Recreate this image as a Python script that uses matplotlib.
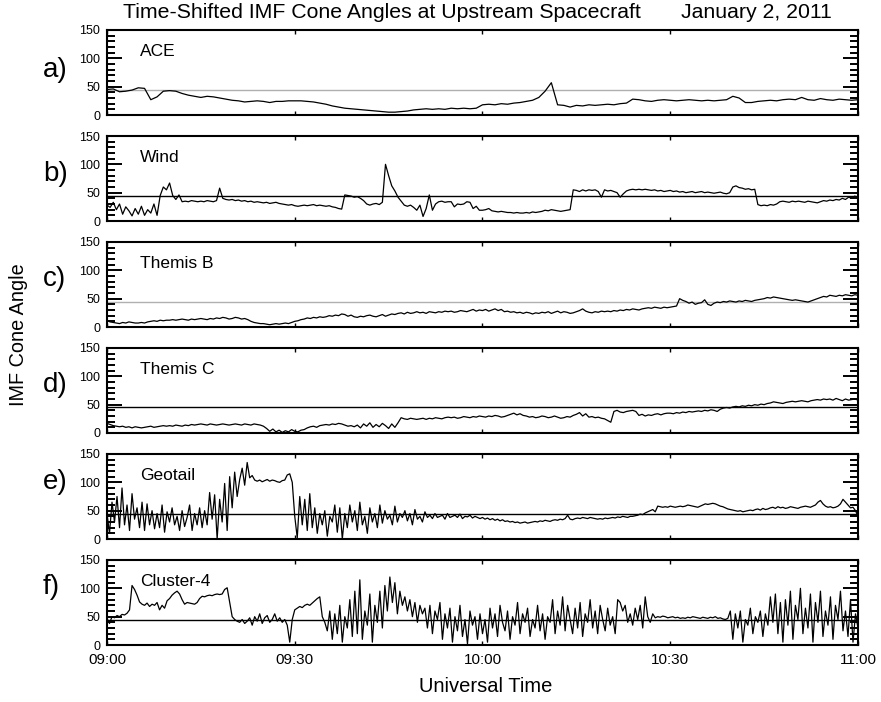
import numpy as np
import matplotlib
matplotlib.use("Agg")
import matplotlib.pyplot as plt
from matplotlib.ticker import MultipleLocator

FONT = 'Liberation Sans'

# ---------------- data ----------------
tick_minutes = [0, 30, 60, 90, 120]
tick_labels = ['09:00', '09:30', '10:00', '10:30', '11:00']
panel_letters = ['a)', 'b)', 'c)', 'd)', 'e)', 'f)']
spacecraft = ['ACE', 'Wind', 'Themis B', 'Themis C', 'Geotail', 'Cluster-4']
ref_angle = 45

# ACE: 1-minute samples from 09:00
ace = [45, 46, 41, 42, 44, 48, 47, 27, 32, 42, 43, 42, 38, 35, 33, 31, 33, 32, 30, 28,
       26, 25, 23, 24, 25, 24, 22, 24, 24, 25, 25, 25, 24, 23, 21, 19, 16, 14, 12, 11,
       10, 9, 8, 7, 6, 5, 5, 6, 7, 9, 10, 11, 10, 11, 10, 12, 11, 12, 11, 12,
       18, 19, 18, 20, 19, 21, 22, 24, 26, 31, 42, 57, 18, 17, 14, 17, 16, 18, 17, 18,
       19, 18, 20, 21, 28, 27, 25, 24, 26, 27, 26, 25, 26, 27, 26, 25, 26, 25, 26, 27,
       33, 30, 22, 22, 24, 25, 26, 25, 27, 28, 27, 31, 27, 26, 29, 27, 26, 28, 27, 26, 27]

# Wind: 0.5-minute samples
wind = [28, 24, 33, 20, 30, 12, 25, 18, 9, 22,
        12, 26, 10, 20, 14, 30, 10, 45, 60, 55,
        67, 45, 38, 46, 34, 35, 34, 36, 35, 34,
        35, 34, 36, 35, 34, 36, 58, 40, 38, 37,
        38, 36, 37, 35, 36, 34, 35, 33, 34, 33,
        32, 33, 31, 32, 33, 31, 30, 29, 28, 29,
        27, 26, 27, 28, 27, 28, 29, 27, 28, 27,
        26, 27, 25, 24, 22, 21, 46, 45, 44, 42,
        43, 40, 36, 30, 28, 30, 31, 29, 33, 100,
        80, 62, 53, 42, 35, 28, 26, 28, 24, 19,
        28, 8, 22, 46, 19, 30, 34, 35, 33, 34,
        34, 25, 30, 29, 30, 34, 33, 22, 26, 19,
        19, 20, 22, 18, 17, 16, 17, 16, 15, 15,
        14, 15, 14, 14, 15, 14, 16, 15, 16, 17,
        19, 18, 20, 19, 18, 17, 18, 19, 20, 55,
        54, 52, 55, 53, 55, 54, 55, 52, 42, 55,
        53, 54, 52, 50, 42, 48, 53, 55, 56, 55,
        56, 55, 56, 55, 54, 55, 53, 54, 52, 53,
        54, 52, 53, 51, 52, 50, 51, 52, 50, 51,
        52, 50, 51, 50, 49, 50, 51, 49, 48, 50,
        60, 62, 59, 58, 56, 57, 55, 56, 29, 27,
        28, 27, 29, 28, 30, 34, 35, 34, 33, 35,
        34, 35, 34, 33, 35, 34, 33, 32, 34, 36,
        35, 37, 36, 38, 37, 40, 38, 42, 40, 44,
        40]

# Themis B: 0.5-minute samples
themis_b = [11, 9, 8, 7, 6, 8, 7, 9, 8, 7,
            7, 8, 7, 9, 10, 11, 10, 12, 11, 12,
            12, 13, 12, 13, 14, 13, 12, 14, 13, 14,
            15, 14, 13, 15, 14, 16, 15, 17, 16, 14,
            15, 17, 16, 14, 15, 13, 10, 8, 7, 6,
            6, 5, 4, 5, 6, 5, 6, 7, 6, 8,
            10, 11, 13, 14, 16, 15, 17, 16, 18, 17,
            18, 20, 19, 21, 20, 23, 22, 19, 21, 18,
            17, 19, 18, 20, 21, 19, 18, 20, 22, 19,
            21, 23, 22, 24, 25, 23, 26, 24, 25, 27,
            25, 26, 24, 27, 26, 25, 27, 26, 28, 27,
            28, 26, 27, 29, 28, 27, 29, 31, 28, 30,
            29, 31, 28, 30, 32, 29, 31, 27, 28, 26,
            27, 25, 26, 24, 26, 25, 23, 25, 24, 26,
            25, 27, 24, 26, 28, 25, 27, 26, 24, 25,
            27, 29, 32, 28, 26, 25, 27, 26, 28, 27,
            28, 27, 29, 28, 30, 29, 31, 30, 32, 31,
            30, 32, 33, 34, 33, 35, 34, 33, 35, 34,
            35, 36, 37, 50, 47, 45, 42, 44, 40, 42,
            43, 48, 40, 38, 42, 44, 43, 45, 44, 46,
            45, 44, 46, 45, 47, 46, 45, 47, 48, 49,
            50, 52, 51, 53, 52, 51, 50, 49, 48, 47,
            48, 47, 46, 45, 44, 46, 48, 50, 52, 54,
            53, 56, 55, 54, 56, 55, 57, 56, 55, 57,
            56]

# Themis C: 0.5-minute samples
themis_c = [17, 15, 13, 12, 11, 12, 10, 11, 9, 11,
            10, 9, 10, 11, 12, 10, 11, 12, 13, 12,
            13, 12, 14, 13, 12, 14, 13, 15, 14, 15,
            16, 15, 14, 16, 15, 14, 15, 16, 15, 14,
            15, 16, 15, 14, 16, 15, 14, 16, 15, 14,
            12, 8, 3, 7, 2, 5, 1, 4, 2, 6,
            3, 2, 5, 6, 9, 11, 12, 10, 13, 14,
            15, 14, 16, 15, 17, 16, 14, 12, 13, 11,
            14, 9, 16, 12, 18, 10, 15, 11, 17, 13,
            8, 16, 10, 18, 27, 25, 24, 26, 25, 24,
            25, 26, 24, 26, 25, 27, 26, 25, 27, 28,
            27, 28, 26, 27, 29, 28, 27, 29, 28, 30,
            29, 28, 30, 29, 31, 30, 28, 29, 31, 33,
            35, 32, 34, 31, 30, 28, 29, 27, 28, 30,
            29, 27, 28, 30, 28, 26, 27, 29, 28, 31,
            33, 36, 30, 34, 28, 29, 27, 28, 26, 25,
            22, 19, 38, 40, 37, 36, 38, 39, 40, 38,
            31, 33, 30, 32, 31, 33, 34, 32, 34, 35,
            35, 34, 36, 35, 37, 36, 38, 37, 38, 39,
            38, 40, 39, 41, 40, 38, 42, 44, 45, 44,
            46, 47, 46, 48, 47, 49, 48, 50, 49, 51,
            50, 52, 53, 55, 54, 53, 52, 54, 55, 56,
            55, 56, 57, 56, 55, 57, 58, 59, 58, 60,
            59, 60, 58, 61, 59, 57, 60, 58, 59, 60,
            58]

# Geotail: 0.4-minute samples
geotail = [45, 10, 65, 30, 75, 20, 90, 25, 60, 15,
           80, 35, 55, 20, 65, 15, 62, 25, 50, 18,
           45, 20, 60, 12, 48, 30, 55, 25, 40, 15,
           50, 22, 38, 60, 15, 45, 25, 55, 20, 50,
           25, 82, 35, 78, 0, 70, 30, 98, 15, 110,
           55, 118, 75, 105, 125, 95, 135, 108, 112, 104,
           102, 104, 101, 103, 105, 102, 104, 103, 101, 100,
           103, 104, 113, 115, 100, 40, 2, 75, 25, 70,
           15, 80, 20, 55, 10, 45, 25, 50, 5, 40,
           30, 60, 12, 55, 0, 45, 20, 60, 30, 50,
           15, 65, 25, 40, 10, 55, 30, 45, 20, 60,
           28, 50, 35, 42, 25, 58, 30, 45, 38, 50,
           32, 45, 25, 52, 35, 40, 30, 48, 38, 42,
           36, 45, 38, 40, 42, 35, 45, 38, 40, 42,
           38, 44, 36, 40, 39, 42, 37, 40, 38, 36,
           38, 35, 37, 34, 36, 33, 35, 32, 34, 31,
           32, 30, 31, 29, 30, 28, 29, 30, 28, 29,
           30, 31, 30, 32, 31, 33, 32, 31, 33, 34,
           33, 35, 34, 36, 42, 35, 34, 36, 37, 36,
           38, 37, 36, 38, 37, 36, 35, 36, 35, 37,
           36, 37, 38, 37, 39, 38, 40, 39, 38, 40,
           40, 41, 42, 44, 43, 46, 48, 50, 52, 48,
           58, 57, 56, 57, 56, 58, 57, 56, 57, 58,
           57, 58, 60, 59, 58, 57, 56, 58, 60, 62,
           61, 62, 63, 62, 60, 58, 57, 55, 53, 52,
           51, 50, 49, 50, 48, 49, 50, 51, 50, 52,
           53, 51, 54, 52, 53, 55, 56, 54, 57, 55,
           56, 54, 55, 57, 56, 55, 54, 56, 57, 58,
           57, 56, 58, 60, 65, 68, 62, 58, 56, 57,
           55, 56, 58, 62, 70, 65, 60, 55, 56, 50,
           40]

# Cluster-4: 0.4-minute samples
cluster4 = [47, 38, 50, 48, 52, 50, 54, 53, 56, 62,
            105, 98, 88, 76, 72, 70, 74, 68, 72, 70,
            75, 62, 70, 65, 78, 82, 88, 92, 95, 90,
            80, 72, 75, 74, 73, 72, 75, 82, 86, 85,
            87, 88, 87, 89, 90, 89, 90, 98, 101, 75,
            50, 45, 42, 40, 45, 38, 42, 48, 35, 50,
            42, 55, 38, 48, 52, 40, 45, 55, 42, 48,
            40, 45, 35, 5, 45, 62, 65, 68, 66, 70,
            72, 70, 74, 78, 82, 85, 50, 40, 25, 60,
            10, 55, 20, 70, 5, 50, 30, 80, 15, 95,
            20, 115, 10, 60, 35, 90, 5, 70, 40, 95,
            30, 105, 60, 120, 75, 110, 55, 95, 70, 85,
            60, 80, 50, 75, 40, 70, 55, 65, 30, 70,
            20, 60, 45, 75, 10, 55, 30, 65, 5, 50,
            25, 70, 15, 45, 2, 60, 35, 50, 10, 55,
            20, 45, 5, 65, 30, 55, 15, 70, 40, 25,
            60, 10, 50, 35, 75, 20, 55, 40, 65, 15,
            45, 30, 70, 25, 55, 10, 50, 40, 80, 20,
            60, 35, 85, 25, 70, 45, 20, 65, 30, 75,
            15, 55, 40, 80, 30, 60, 20, 70, 45, 25,
            65, 35, 50, 20, 80, 75, 60, 70, 40, 55,
            35, 65, 45, 70, 30, 85, 50, 40, 55, 48,
            50, 49, 51, 50, 48, 49, 50, 48, 49, 47,
            48, 47, 49, 48, 50, 49, 48, 47, 49, 48,
            47, 49, 48, 50, 47, 48, 46, 45, 47, 60,
            10, 55, 30, 60, 5, 45, 35, 65, 20, 50,
            40, 60, 15, 55, 35, 85, 40, 90, 20, 75,
            5, 80, 35, 95, 10, 70, 45, 100, 20, 65,
            30, 90, 5, 75, 40, 95, 15, 60, 35, 85,
            10, 70, 45, 95, 25, 60, 15, 80, 5, 55,
            30]

series = [ace, wind, themis_b, themis_c, geotail, cluster4]
ref_colors = ['#b0b0b0', 'black', '#b0b0b0', 'black', 'black', 'black']

# ---------------- figure ----------------
W, H = 881, 702
fig = plt.figure(figsize=(W / 100, H / 100), dpi=100)

left_px, right_px = 107, 858
top0, step, ph = 30, 106, 85
letter_cy = [70, 174, 279, 385, 482, 587]

for i, vals in enumerate(series):
    top = top0 + step * i
    ax = fig.add_axes([left_px / W, 1 - (top + ph) / H, (right_px - left_px) / W, ph / H])
    v = np.asarray(vals, dtype=float)
    t = np.linspace(0, 120, len(v))
    ax.axhline(ref_angle, color=ref_colors[i], lw=1.0, zorder=1)
    ax.plot(t, v, color='black', lw=0.9, zorder=2)
    ax.set_xlim(0, 120)
    ax.set_ylim(0, 150)
    ax.set_yticks([0, 50, 100, 150])
    ax.yaxis.set_minor_locator(MultipleLocator(10))
    ax.set_xticks(tick_minutes)
    ax.tick_params(axis='y', which='major', direction='in', left=True, right=True,
                   length=11, width=1.4, labelsize=9, pad=5)
    ax.tick_params(axis='y', which='minor', direction='in', left=True, right=True,
                   length=5.5, width=1.4)
    ax.tick_params(axis='x', which='major', direction='in', top=True, bottom=True,
                   length=3, width=1.0, labelsize=11, pad=6)
    for lab in ax.get_yticklabels():
        lab.set_fontfamily(FONT)
    if i < 5:
        ax.set_xticklabels([])
    else:
        ax.set_xticklabels(tick_labels, fontfamily=FONT)
    for s in ax.spines.values():
        s.set_linewidth(1.5)
    ax.text(33 / (right_px - left_px), 1 - 21 / ph, spacecraft[i], transform=ax.transAxes,
            ha='left', va='center', fontsize=12.5, fontfamily=FONT)
    fig.text(43 / W, 1 - letter_cy[i] / H, panel_letters[i], ha='left', va='center',
             fontsize=20, fontfamily=FONT)

fig.text(123 / W, 1 - 13 / H, 'Time-Shifted IMF Cone Angles at Upstream Spacecraft',
         ha='left', va='center', fontsize=15.3, fontfamily=FONT)
fig.text(832 / W, 1 - 13 / H, 'January 2, 2011', ha='right', va='center',
         fontsize=15.3, fontfamily=FONT)
fig.text(486 / W, 1 - 686 / H, 'Universal Time', ha='center', va='center',
         fontsize=14.5, fontfamily=FONT)
fig.text(19 / W, 1 - 335 / H, 'IMF Cone Angle', ha='center', va='center',
         rotation=90, fontsize=14.3, fontfamily=FONT)

fig.savefig('out.png', dpi=100)
